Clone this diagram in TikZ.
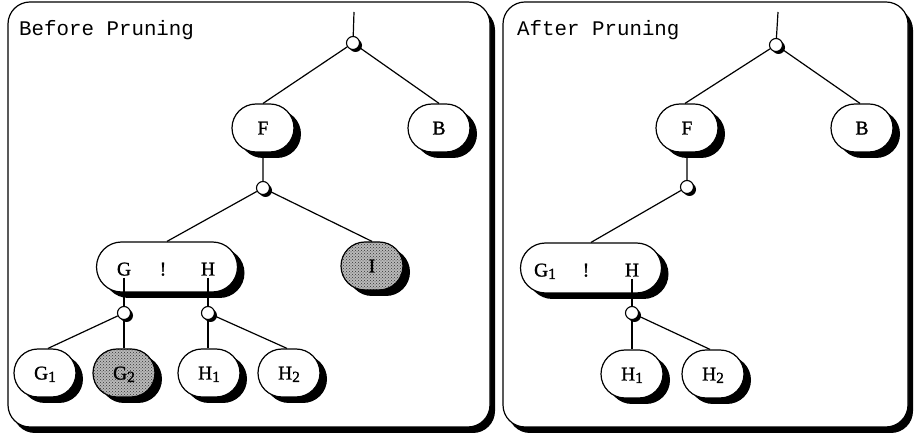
\documentclass[tikz,border=0pt]{standalone}
\usepackage{fontspec}
\usetikzlibrary{shadows,patterns,shapes.misc}
\newfontfamily\nodefnt[FakeBold=1.2]{Liberation Serif}
\newfontfamily\titlefnt{Liberation Mono}
\newcommand{\sbs}[1]{\raisebox{-2.5pt}{\fontsize{15.5}{15.5}\selectfont #1}}
\begin{document}
\begin{tikzpicture}[x=1pt,y=-1pt,
  panel/.style={draw=black, line width=1.2pt, fill=white, rounded corners=22pt},
  panelshadow/.style={fill=black, rounded corners=22pt},
  title/.style={anchor=base west, inner sep=0pt, font={\titlefnt\fontsize{20.8}{24}\selectfont}},
  leaf/.style={rounded rectangle, draw, line width=1.2pt, fill=white,
    minimum width=62pt, minimum height=48pt, inner sep=0pt,
    text height=13pt, text depth=0pt,
    font={\nodefnt\fontsize{19.5}{22}\selectfont},
    drop shadow={shadow xshift=7pt, shadow yshift=-6pt, fill=black, opacity=1}},
  pruned/.style={leaf, preaction={fill=gray!55}, pattern=crosshatch dots, pattern color=black!80},
  pair/.style={leaf, minimum width=141pt, minimum height=50pt},
  lbl/.style={inner sep=0pt, text height=13pt, text depth=0pt, font={\nodefnt\fontsize{19.5}{22}\selectfont}},
  junc/.style={circle, draw, line width=1.1pt, fill=white, minimum size=13pt, inner sep=0pt,
    drop shadow={shadow xshift=2.5pt, shadow yshift=-2.5pt, fill=black, opacity=1}},
  edge/.style={line width=1.2pt}
]
\useasboundingbox (0,0) rectangle (914,435);
% panels
\fill[panelshadow] (13,8) rectangle (495,433);
\draw[panel] (8,2) rectangle (490,427);
\fill[panelshadow] (508,8) rectangle (913,433);
\draw[panel] (503,2) rectangle (908,427);
\node[title] (t1) at (19,36) {Before Pruning};
\node[title] (t2) at (517,36) {After Pruning};

% ---------- left tree ----------
\coordinate (r0) at (354,12);
\node[junc] (j1) at (353,43) {};
\node[leaf] (F) at (263,128) {F};
\node[leaf] (B) at (439,128) {B};
\node[junc] (j2) at (263,188) {};
\node[pair] (GH) at (167,267) {};
\node[lbl] (gG) at (124,269) {G};
\node[lbl] (gX) at (163,269) {!};
\node[lbl] (gH) at (208,269) {H};
\node[pruned] (I) at (372,266) {I};
\node[junc] (j3) at (124,313) {};
\node[junc] (j4) at (208,313) {};
\node[leaf] (G1) at (45,373) {G\sbs{1}};
\node[pruned] (G2) at (124,373) {G\sbs{2}};
\node[leaf] (H1) at (209,373) {H\sbs{1}};
\node[leaf] (H2) at (289,373) {H\sbs{2}};

% ---------- right tree ----------
\coordinate (s0) at (778,12);
\node[junc] (k1) at (776,45) {};
\node[leaf] (Fr) at (687,128) {F};
\node[leaf] (Br) at (862,128) {B};
\node[junc] (k2) at (687,187) {};
\node[pair] (GHr) at (591,268) {};
\node[lbl] (hG) at (545,270) {G\sbs{1}};
\node[lbl] (hX) at (586,270) {!};
\node[lbl] (hH) at (632,270) {H};
\node[junc] (k3) at (632,313) {};
\node[leaf] (H1r) at (632,374) {H\sbs{1}};
\node[leaf] (H2r) at (713,374) {H\sbs{2}};

% ---------- edges ----------
\draw[edge] (r0) -- (j1);
\draw[edge] (j1) -- (F.north);
\draw[edge] (j1) -- (B.north);
\draw[edge] (F) -- (j2);
\draw[edge] (j2) -- (GH.north);
\draw[edge] (j2) -- (I.north);
\draw[edge] ([yshift=-2pt]gG.south) -- (j3);
\draw[edge] ([yshift=-2pt]gH.south) -- (j4);
\draw[edge] (j3) -- ([xshift=3pt]G1.north);
\draw[edge] (j3) -- (G2.north);
\draw[edge] (j4) -- ([xshift=-1pt]H1.north);
\draw[edge] (j4) -- ([xshift=-2pt]H2.north);

\draw[edge] (s0) -- (k1);
\draw[edge] (k1) -- ([xshift=-2pt]Fr.north);
\draw[edge] (k1) -- ([xshift=-2pt]Br.north);
\draw[edge] (Fr) -- (k2);
\draw[edge] (k2) -- (GHr.north);
\draw[edge] ([yshift=-2pt]hH.south) -- (k3);
\draw[edge] (k3) -- (H1r.north);
\draw[edge] (k3) -- ([xshift=-3pt]H2r.north);
\end{tikzpicture}
\end{document}
